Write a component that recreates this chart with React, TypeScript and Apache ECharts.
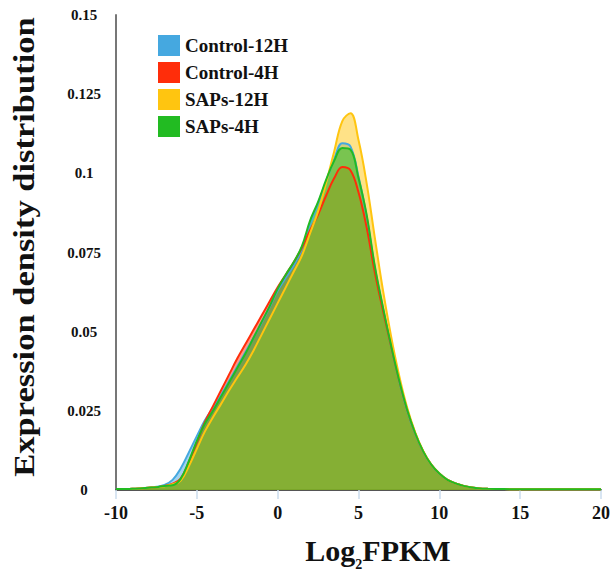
import React, { useEffect, useRef } from "react";
import * as echarts from "echarts";

const xs = [-10, -9.5, -9, -8.5, -8, -7.5, -7, -6.5, -6, -5.5, -5, -4.5, -4, -3.5, -3, -2.5, -2, -1.5, -1, -0.5, 0, 0.5, 1, 1.5, 2, 2.5, 3, 3.5, 4, 4.5, 5, 5.5, 6, 6.5, 7, 7.5, 8, 8.5, 9, 9.5, 10, 10.5, 11, 11.5, 12, 12.5, 13, 14, 15, 16, 17, 18, 19, 20];

const control12H = [0.0003, 0.0003, 0.0004, 0.0005, 0.0007, 0.001, 0.0016, 0.0032, 0.0068, 0.0118, 0.017, 0.022, 0.026, 0.03, 0.0345, 0.039, 0.0435, 0.048, 0.0528, 0.0578, 0.063, 0.067, 0.071, 0.076, 0.084, 0.0905, 0.0975, 0.1045, 0.1095, 0.1085, 0.099, 0.0865, 0.0705, 0.0578, 0.0458, 0.0348, 0.0253, 0.0178, 0.0121, 0.0079, 0.0051, 0.0032, 0.0021, 0.0013, 0.0008, 0.0005, 0.0004, 0.0003, 0.0002, 0.0002, 0.0002, 0.0002, 0.0002, 0.0002];
const control4H = [0.0003, 0.0003, 0.0004, 0.0005, 0.0007, 0.0009, 0.0013, 0.002, 0.0036, 0.0088, 0.015, 0.0215, 0.0265, 0.0315, 0.0365, 0.0415, 0.046, 0.0505, 0.055, 0.0595, 0.064, 0.068, 0.072, 0.0765, 0.082, 0.087, 0.093, 0.0985, 0.102, 0.101, 0.094, 0.083, 0.069, 0.057, 0.0458, 0.035, 0.0256, 0.018, 0.0122, 0.008, 0.0052, 0.0032, 0.0021, 0.0013, 0.0008, 0.0005, 0.0004, 0.0003, 0.0002, 0.0002, 0.0002, 0.0002, 0.0002, 0.0002];
const saps12H = [0.0003, 0.0003, 0.0004, 0.0005, 0.0007, 0.0009, 0.0012, 0.0018, 0.003, 0.0075, 0.013, 0.0185, 0.023, 0.0272, 0.0315, 0.0355, 0.0395, 0.044, 0.049, 0.054, 0.059, 0.064, 0.069, 0.074, 0.081, 0.088, 0.097, 0.107, 0.1165, 0.119, 0.1105, 0.097, 0.08, 0.0635, 0.049, 0.0365, 0.0262, 0.0183, 0.0123, 0.008, 0.0052, 0.0032, 0.0021, 0.0013, 0.0008, 0.0005, 0.0004, 0.0003, 0.0002, 0.0002, 0.0002, 0.0002, 0.0002, 0.0002];
const saps4H = [0.0003, 0.0003, 0.0004, 0.0005, 0.0007, 0.0009, 0.0013, 0.0015, 0.0035, 0.009, 0.0155, 0.021, 0.025, 0.0295, 0.034, 0.0385, 0.043, 0.048, 0.053, 0.058, 0.0635, 0.068, 0.072, 0.077, 0.085, 0.091, 0.098, 0.104, 0.108, 0.1075, 0.0985, 0.087, 0.071, 0.058, 0.046, 0.035, 0.0255, 0.018, 0.0122, 0.008, 0.0052, 0.0032, 0.0021, 0.0013, 0.0008, 0.0005, 0.0004, 0.0003, 0.0002, 0.0002, 0.0002, 0.0002, 0.0002, 0.0002];

const seriesNames = ["Control-12H", "Control-4H", "SAPs-12H", "SAPs-4H"];
const seriesValues = [control12H, control4H, saps12H, saps4H];
const seriesColors = ["#45a8e0", "#ff2d0a", "#ffc510", "#22bb22"];

const SERIF = "'Liberation Serif', 'Times New Roman', serif";

export default function App() {
  const ref = useRef<HTMLDivElement>(null);
  useEffect(() => {
    if (!ref.current) return;
    const chart = echarts.init(ref.current, null, { renderer: "svg" });
    chart.setOption({
      animation: false,
      backgroundColor: "#ffffff",
      grid: { left: 116, right: 9, top: 15, bottom: 80, containLabel: false },
      legend: {
        orient: "vertical",
        left: 153,
        top: 30,
        icon: "rect",
        itemWidth: 22,
        itemHeight: 21,
        itemGap: 6,
        data: seriesNames,
        textStyle: { fontFamily: SERIF, fontWeight: "bold", fontSize: 19, color: "#111" },
      },
      xAxis: {
        type: "value",
        min: -10,
        max: 20,
        interval: 5,
        axisLine: { show: true, onZero: false, lineStyle: { color: "#555", width: 2 } },
        axisTick: { show: true, length: 9, lineStyle: { color: "#cbdcee", width: 1.5 } },
        splitLine: { show: false },
        axisLabel: { fontFamily: SERIF, fontWeight: "bold", fontSize: 18, color: "#111", margin: 14 },
      },
      yAxis: {
        type: "value",
        min: 0,
        max: 0.15,
        interval: 0.025,
        axisLine: { show: true, onZero: false, lineStyle: { color: "#777", width: 2 } },
        axisTick: { show: false },
        splitLine: { show: false },
        axisLabel: {
          fontFamily: SERIF,
          fontWeight: "bold",
          fontSize: 15,
          color: "#111",
          align: "center",
          margin: 32,
        },
      },
      graphic: [
        {
          type: "text",
          x: 378,
          y: 550,
          style: {
            text: "{a|Log}{s|2}{a|FPKM}",
            align: "center",
            verticalAlign: "middle",
            fill: "#111",
            rich: {
              a: { fontFamily: SERIF, fontWeight: "bold", fontSize: 30, lineHeight: 42, fill: "#111" },
              s: { fontFamily: SERIF, fontWeight: "bold", fontSize: 14, lineHeight: 15, verticalAlign: "bottom", fill: "#111" },
            },
          },
        },
        {
          type: "text",
          x: 24,
          y: 247,
          rotation: Math.PI / 2,
          scaleX: 1.15,
          scaleY: 1,
          style: {
            text: "Expression density distribution",
            align: "center",
            verticalAlign: "middle",
            fontFamily: SERIF,
            fontWeight: "bold",
            fontSize: 30,
            fill: "#111",
          },
        },
      ],
      series: seriesNames.map((name, i) => ({
        name,
        type: "line",
        smooth: 0.4,
        showSymbol: false,
        symbol: "none",
        data: xs.map((x, j) => [x, seriesValues[i][j]]),
        itemStyle: { color: seriesColors[i] },
        lineStyle: { color: seriesColors[i], width: 2 },
        areaStyle: { color: seriesColors[i], opacity: 0.5 },
      })),
    });
    return () => chart.dispose();
  }, []);
  return <div ref={ref} style={{ width: 613, height: 570, position: "absolute", left: 0, top: 0 }} />;
}
